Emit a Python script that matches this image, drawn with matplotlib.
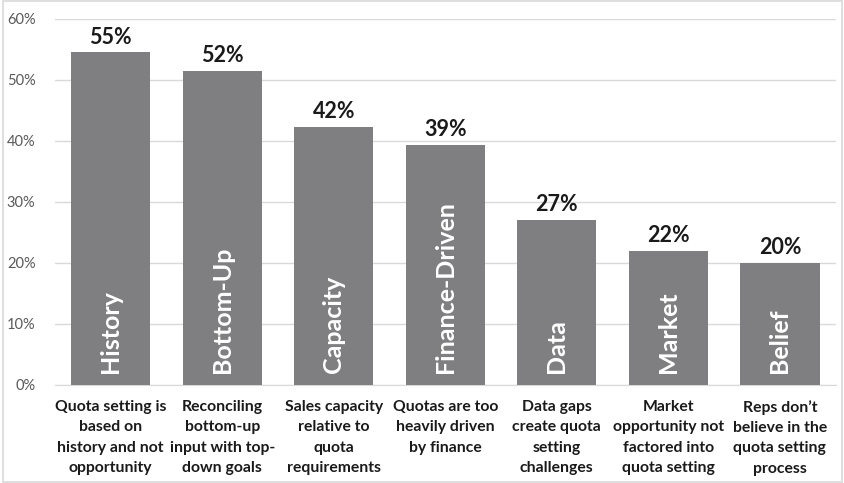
import matplotlib
matplotlib.use("Agg")
import matplotlib.pyplot as plt
from matplotlib.patches import Rectangle

short_names = ["History", "Bottom-Up", "Capacity", "Finance-Driven", "Data", "Market", "Belief"]
descriptions = [
    "Quota setting is\nbased on\nhistory and not\nopportunity",
    "Reconciling\nbottom-up\ninput with top-\ndown goals",
    "Sales capacity\nrelative to\nquota\nrequirements",
    "Quotas are too\nheavily driven\nby finance",
    "Data gaps\ncreate quota\nsetting\nchallenges",
    "Market\nopportunity not\nfactored into\nquota setting",
    "Reps don\u2019t\nbelieve in the\nquota setting\nprocess",
]
values = [54.5, 51.5, 42.3, 39.3, 27.1, 21.9, 20.0]
value_labels = ["55%", "52%", "42%", "39%", "27%", "22%", "20%"]
yticks = [0, 10, 20, 30, 40, 50, 60]

plt.rcParams['font.family'] = ['Lato', 'DejaVu Sans']

fig = plt.figure(figsize=(8.45, 4.83), dpi=100)
ax = fig.add_axes([0.065, 0.203, 0.924, 0.758])

x = list(range(len(values)))
ax.bar(x, values, width=0.71, color="#7f7f81", zorder=3)
ax.set_xlim(-0.5, len(values) - 0.5)
ax.set_ylim(0, 60)
ax.set_yticks(yticks)
ax.set_yticklabels([f"{t}%" for t in yticks], color="#595959", fontsize=10.5)
ax.yaxis.grid(True, color="#d9d9d9", linewidth=1, zorder=0)
ax.tick_params(axis="y", length=0, pad=14)
ax.tick_params(axis="x", length=0, pad=11)
for s in ["top", "right", "left"]:
    ax.spines[s].set_visible(False)
ax.spines["bottom"].set_color("#d9d9d9")
ax.set_xticks(x)
ax.set_xticklabels(descriptions, fontsize=11.3, fontweight="bold", color="#1a1a1a", linespacing=1.56)

for xi, v, lab, nm in zip(x, values, value_labels, short_names):
    ax.text(xi, v + 0.8, lab, ha="center", va="bottom", fontsize=15.5, fontweight="bold", color="#1a1a1a")
    ax.text(xi, 2.0, nm, ha="center", va="bottom", rotation=90, fontsize=18, fontweight="bold", color="white", zorder=4)

fig.patches.append(Rectangle((0.003, 0.003), 0.994, 0.994, transform=fig.transFigure,
                             fill=False, edgecolor="#d9d9d9", linewidth=1.2))

fig.savefig("out.png", dpi=100)
